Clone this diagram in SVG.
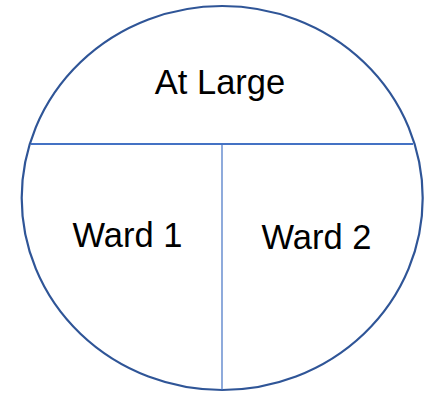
<svg xmlns="http://www.w3.org/2000/svg" width="425" height="395" viewBox="0 0 425 395">
<style>
.outline{fill:none;stroke:#2F5597;stroke-width:2.2}
.div{stroke:#4472C4;fill:none}
.lbl{font-family:"Liberation Sans",Arial,sans-serif;font-size:34.5px;fill:#000;text-anchor:middle}
</style>
<rect width="425" height="395" fill="#fff"/>
<g id="circle"><ellipse class="outline" cx="222.2" cy="198" rx="200.5" ry="192"/></g>
<g id="connectors">
<line class="div" x1="31" y1="144" x2="413" y2="144" stroke-width="1.8"/>
<line class="div" x1="222" y1="144" x2="222" y2="390" stroke-width="1.2"/>
</g>
<g id="at-large"><text class="lbl" x="220" y="94">At Large</text></g>
<g id="ward1"><text class="lbl" x="127.5" y="247">Ward 1</text></g>
<g id="ward2"><text class="lbl" x="316.5" y="249">Ward 2</text></g>
</svg>
